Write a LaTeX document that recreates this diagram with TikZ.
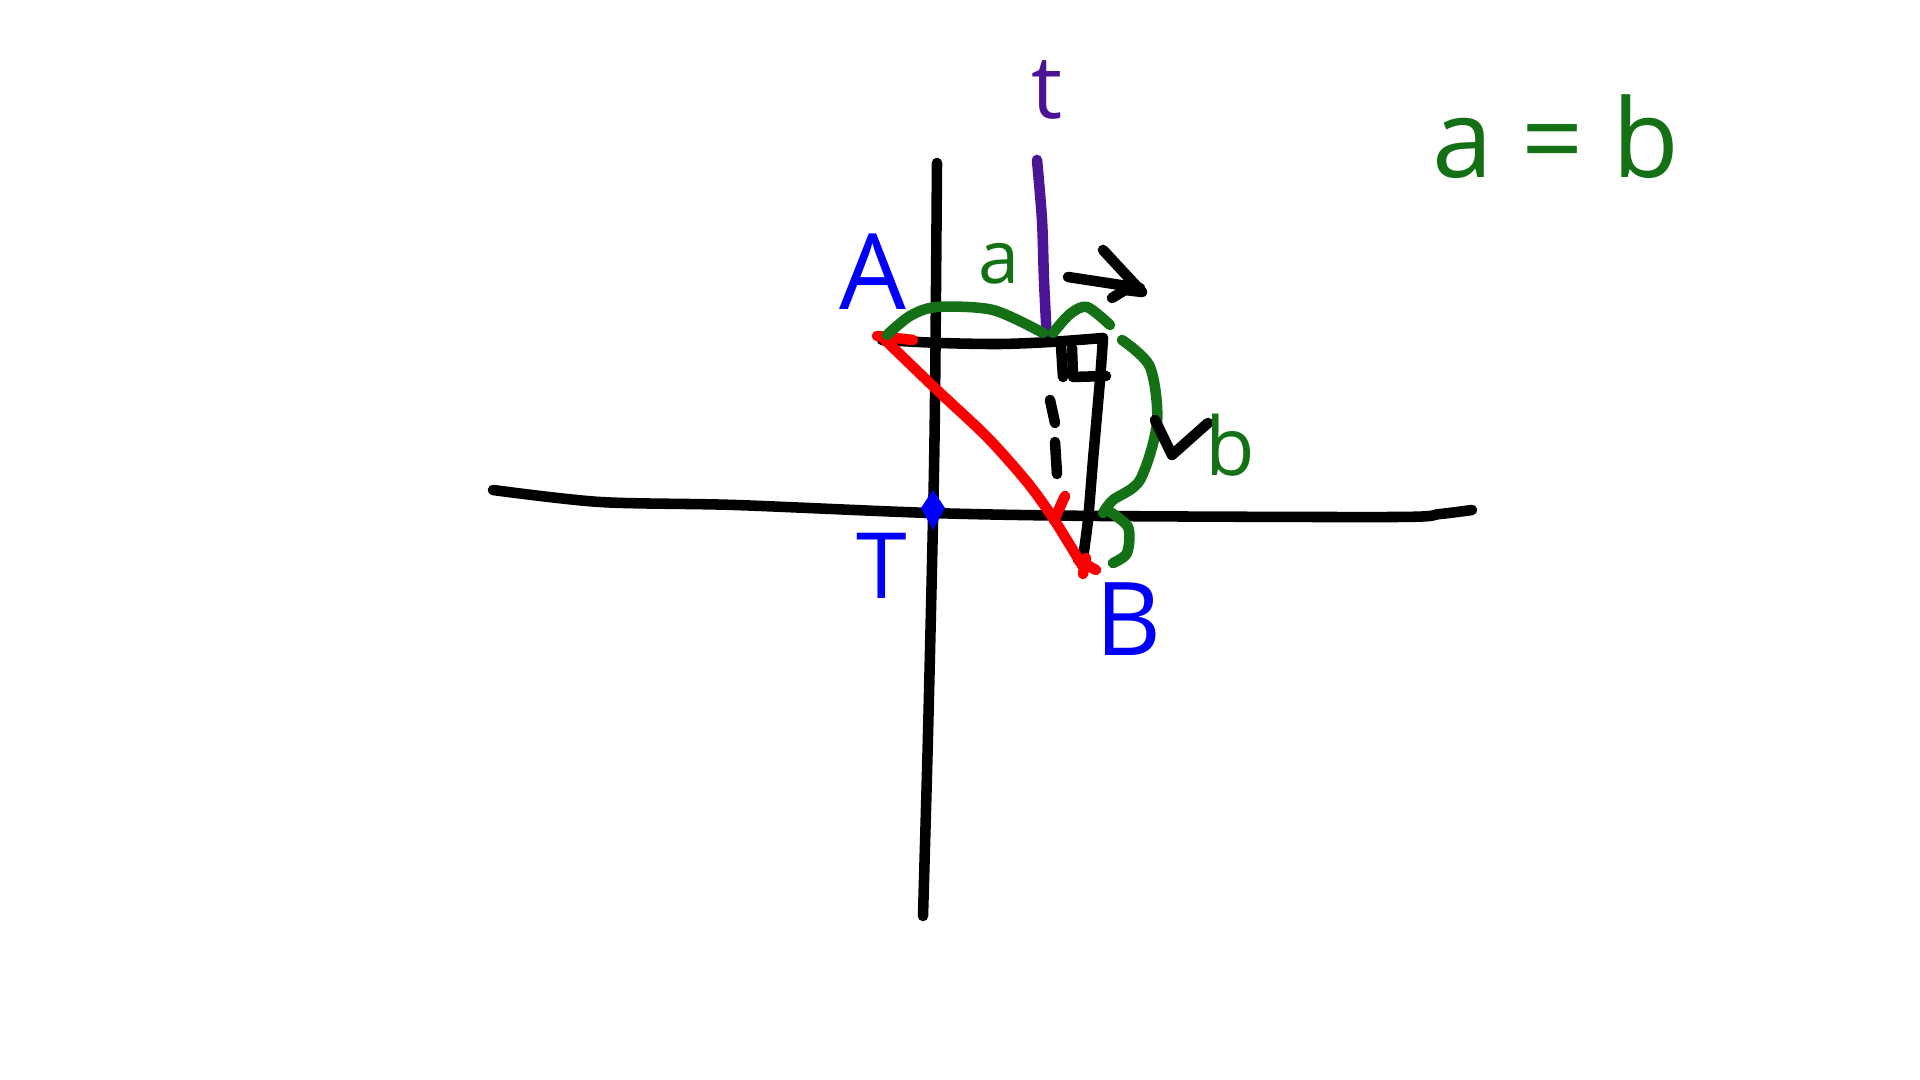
\documentclass[tikz,border=0pt]{standalone}
\usepackage{fontspec}
\setmainfont{Open Sans}
\definecolor{pgreen}{RGB}{20,112,20}
\definecolor{ppurple}{RGB}{75,20,150}
\definecolor{pblue}{RGB}{0,0,250}
\definecolor{pred}{RGB}{250,0,0}
\begin{document}
\begin{tikzpicture}[x=0.01cm,y=-0.01cm,
  pen/.style={line width=3pt,line cap=round,line join=round},
  lbl/.style={inner sep=0pt,font=\fontsize{#1}{#1}\selectfont}]
\useasboundingbox (0,0) rectangle (1920,1080);
% axes
\draw[pen] plot[smooth] coordinates {(493,490) (600,502) (735,505) (931,513) (1100,516) (1396,517) (1440,514) (1472,510)};
\draw[pen] plot[smooth] coordinates {(937,163) (935,400) (933,520) (928,735) (923,916)};
% t line
\draw[pen,ppurple] plot[smooth] coordinates {(1037,160) (1042,220) (1044,280) (1047,342)};
\node[lbl=25,ppurple] (t) at (1047,90) {t};
% rectangle parts
\coordinate (A) at (882,340);
\coordinate (C) at (1103,338);
\coordinate (B) at (1082,565);
\draw[pen] plot[smooth] coordinates {(A) (940,343) (1000,344) (1050,342) (C)};
\draw[pen] plot[smooth] coordinates {(C) (1100,380) (1093,460) (1088,520) (B)};
% right angle mark
\draw[pen] (1061,346) -- (1063,377);
\draw[pen] (1072,348) -- (1073,377) -- (1106,376);
% dashed drop
\draw[pen] (1050,400) -- (1055,423);
\draw[pen] (1055,442) -- (1057,474);
% red line
\draw[pen,pred] plot[smooth] coordinates {(882,337) (937,390) (987,437) (1027,482) (1053,518) (B)};
\draw[pen,pred] (877,336) -- (913,340);
\draw[pen,pred] (1078,560) -- (1096,570);
\draw[pen,pred] (1086,558) -- (1083,574);
\draw[pen,pred] (1065,496) -- (1054,520);
% green arcs (a)
\draw[pen,pgreen] plot[smooth] coordinates {(887,335) (910,316) (937,307) (993,310) (1043,333)};
\draw[pen,pgreen] plot[smooth] coordinates {(1053,333) (1070,314) (1087,307) (1110,325)};
% green brace (b)
\draw[pen,pgreen] plot[smooth] coordinates {(1122,340) (1150,367) (1157,423) (1140,480) (1113,500) (1103,513)};
\draw[pen,pgreen] plot[smooth] coordinates {(1107,510) (1128,527) (1127,553) (1113,563)};
% black arrows
\draw[pen] (1068,277) -- (1140,288);
\draw[pen] (1103,250) -- (1142,292);
\draw[pen] (1112,298) -- (1125,290) -- (1142,292);
\draw[pen] (1155,420) -- (1172,455) -- (1208,423);
% T point
\fill[pblue] (933,490) -- (945,508) -- (933,530) -- (921,508) -- cycle;
% labels
\node[lbl=30,pblue] (Alab) at (873,272) {A};
\node[lbl=26,pblue] (Tlab) at (882,566) {T};
\node[lbl=29,pblue] (Blab) at (1129,619) {B};
\node[lbl=21,pgreen] (alab) at (999,264) {a};
\node[lbl=23,pgreen] (blab) at (1230,445) {b};
\node[lbl=31,pgreen,anchor=base] (eq) at (1556,178) {a = b};
\end{tikzpicture}
\end{document}
